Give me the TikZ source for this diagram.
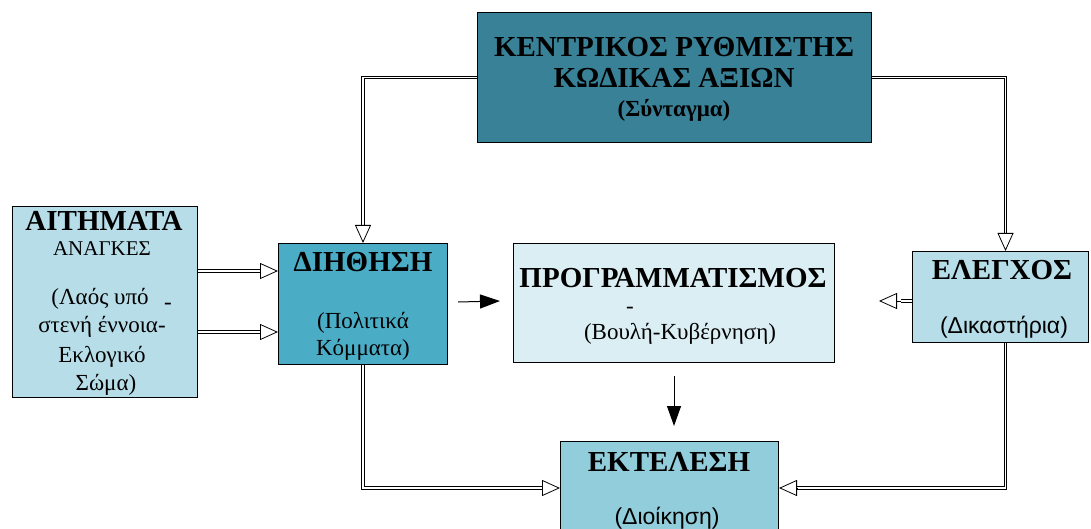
\documentclass[tikz,border=0pt]{standalone}
\usepackage{fontspec}
\setmainfont{Liberation Serif}
\newfontfamily\grsans{Liberation Sans}
\usetikzlibrary{arrows.meta}

\definecolor{tealdark}{RGB}{57,129,151}
\definecolor{tealmid}{RGB}{75,172,198}
\definecolor{tealpale}{RGB}{183,221,232}
\definecolor{tealfaint}{RGB}{218,238,243}
\definecolor{tealsoft}{RGB}{146,205,220}

\begin{document}
\begin{tikzpicture}[x=1pt,y=-1pt,
  box/.style={draw=black, line width=1pt, inner sep=0pt, anchor=north west},
  ttl/.style={font=\bfseries\fontsize{29}{33}\selectfont, anchor=base, inner sep=0pt},
  sub/.style={font=\fontsize{23}{27}\selectfont, anchor=base, inner sep=0pt},
  subb/.style={font=\bfseries\fontsize{23}{27}\selectfont, anchor=base, inner sep=0pt},
  sans/.style={font=\grsans\fontsize{23}{27}\selectfont, anchor=base, inner sep=0pt},
  dbl/.style={draw=black, line width=0.75pt, double=white, double distance=1.8pt},
  otip/.style={line width=0.8pt, -{Triangle[open, length=18pt, width=16pt]}},
  farrow/.style={line width=1pt, -{Triangle[length=20pt, width=14pt]}}
]
\useasboundingbox (0,0) rectangle (1091,529);
\clip (0,0) rectangle (1091,529);

% boxes
\node[box, fill=tealdark, minimum width=394pt, minimum height=130pt] (top) at (477,12) {};
\node[box, fill=tealpale, minimum width=185pt, minimum height=191pt] (ait) at (12,206) {};
\node[box, fill=tealmid, minimum width=169pt, minimum height=121pt] (dih) at (278,243) {};
\node[box, fill=tealfaint, minimum width=321pt, minimum height=119pt] (prog) at (513,243) {};
\node[box, fill=tealpale, minimum width=176pt, minimum height=91pt] (ele) at (912,251) {};
\node[box, fill=tealsoft, minimum width=218pt, minimum height=93pt] (ekt) at (560,441) {};

% texts
\node[ttl] (topA) at (674,57) {ΚΕΝΤΡΙΚΟΣ ΡΥΘΜΙΣΤΗΣ};
\node[ttl] (topB) at (674,88) {ΚΩΔΙΚΑΣ ΑΞΙΩΝ};
\node[subb] (topC) at (674,117) {(Σύνταγμα)};

\node[ttl] (aitA) at (104,231) {ΑΙΤΗΜΑΤΑ};
\node[sub, font=\fontsize{21}{24}\selectfont] (aitB) at (102,255) {ΑΝΑΓΚΕΣ};
\node[sub] (aitC) at (100,304) {(Λαός υπό};
\node[sub] (aitD) at (168,309) {-};
\node[sub] (aitE) at (102,332) {στενή έννοια-};
\node[sub] (aitF) at (102,362) {Εκλογικό};
\node[sub] (aitG) at (106,390) {Σώμα)};

\node[ttl] (dihA) at (363,271) {ΔΙΗΘΗΣΗ};
\node[sub] (dihB) at (363,328) {(Πολιτικά};
\node[sub] (dihC) at (363,355) {Κόμματα)};

\node[ttl] (progA) at (673,287) {ΠΡΟΓΡΑΜΜΑΤΙΣΜΟΣ};
\node[sub] (progB) at (630,313) {-};
\node[sub] (progC) at (680,339) {(Βουλή-Κυβέρνηση)};

\node[ttl] (eleA) at (1002,279) {ΕΛΕΓΧΟΣ};
\node[sans] (eleB) at (1004,333) {(Δικαστήρια)};

\node[ttl] (ektA) at (669,471) {ΕΚΤΕΛΕΣΗ};
\node[sans] (ektB) at (667,524) {(Διοίκηση)};

% helper points for the connectors
\coordinate (a1) at ([yshift=31pt]ait.east);
\coordinate (a2) at ([yshift=-30pt]ait.east);
\coordinate (a1e) at (a1 -| dih.west);
\coordinate (a2e) at (a2 -| dih.west);
\coordinate (dtop) at (dih.north);
\coordinate (etop) at ([xshift=5pt]ele.north);
\coordinate (ebot) at ([xshift=5pt]ele.south);
\coordinate (ew) at ([yshift=-4pt]ele.west);
\coordinate (pe) at ([xshift=44pt]prog.east |- ew);
\coordinate (pd) at (prog.south |- ekt.north);

% double connectors with open heads
\draw[dbl] (top.west) -| ([yshift=18pt]dtop);
\draw[otip] ([yshift=18pt]dtop) -- (dtop);
\draw[dbl] (top.east) -| ([yshift=18pt]etop);
\draw[otip] ([yshift=18pt]etop) -- (etop);

\draw[dbl] (a1) -- ([xshift=-18pt]a1e);
\draw[otip] ([xshift=-18pt]a1e) -- (a1e);
\draw[dbl] (a2) -- ([xshift=-18pt]a2e);
\draw[otip] ([xshift=-18pt]a2e) -- (a2e);

\draw[dbl] (ew) -- ([xshift=22pt]pe);
\draw[otip] ([xshift=22pt]pe) -- (pe);

\draw[dbl] (dih.south) |- ([xshift=-18pt]ekt.west);
\draw[otip] ([xshift=-18pt]ekt.west) -- (ekt.west);
\draw[dbl] (ebot) |- ([xshift=18pt]ekt.east);
\draw[otip] ([xshift=18pt]ekt.east) -- (ekt.east);

% plain arrows with filled heads
\draw[farrow] ([xshift=10pt,yshift=2pt]dih.east) -- ([xshift=-13pt,yshift=2pt]prog.west);
\draw[farrow] ([yshift=-13pt]prog.south) -- ([yshift=15pt]pd);
\end{tikzpicture}
\end{document}
